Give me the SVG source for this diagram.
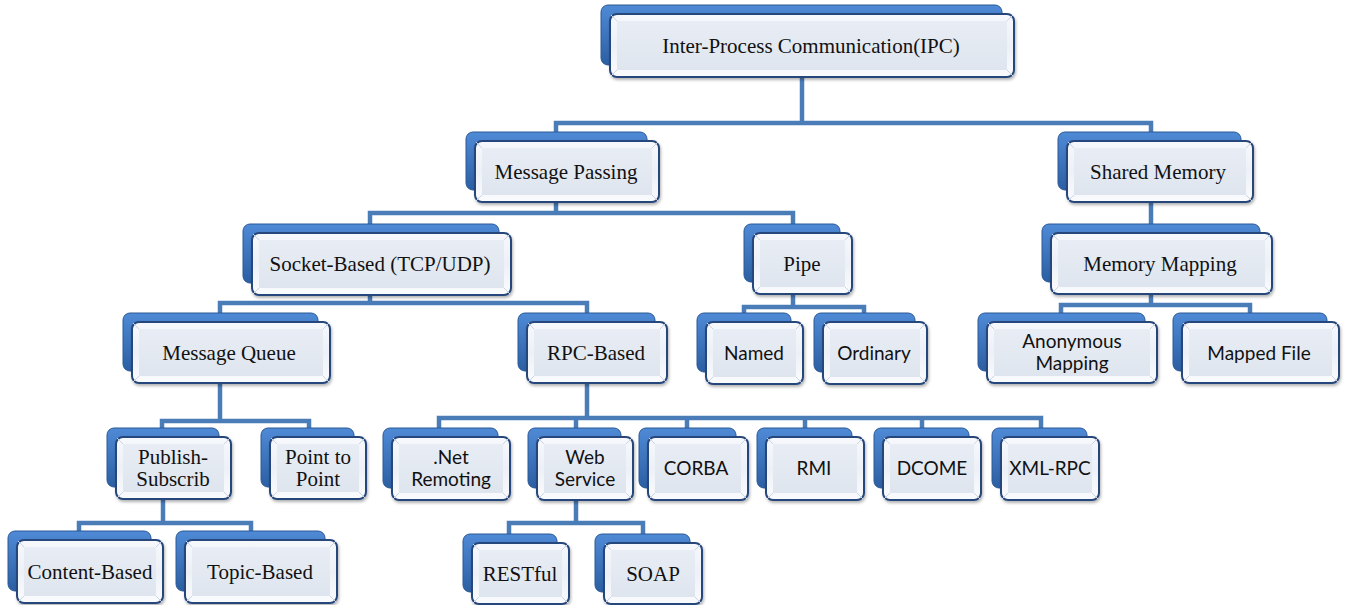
<svg xmlns="http://www.w3.org/2000/svg" width="1348" height="605" viewBox="0 0 1348 605">
<defs>
<linearGradient id="gBack" x1="0" y1="0" x2="0" y2="1">
<stop offset="0" stop-color="#4f8ad6"/>
<stop offset="1" stop-color="#2c5fa3"/>
</linearGradient>
<linearGradient id="gFront" x1="0" y1="0" x2="0" y2="1">
<stop offset="0" stop-color="#f6f8fc"/>
<stop offset="0.5" stop-color="#edf1f7"/>
<stop offset="1" stop-color="#fafbfd"/>
</linearGradient>
<linearGradient id="gInner" x1="0" y1="0" x2="0" y2="1">
<stop offset="0" stop-color="#e8edf5"/>
<stop offset="1" stop-color="#dfe5ee"/>
</linearGradient>
<filter id="sh" x="-10%" y="-20%" width="120%" height="150%">
<feDropShadow dx="1" dy="2" stdDeviation="1.5" flood-color="#000" flood-opacity="0.3"/>
</filter>
</defs>
<style>
.bk{fill:url(#gBack);stroke:#2a5896;stroke-width:1}
.fr{fill:url(#gFront);stroke:#26477c;stroke-width:2;filter:url(#sh)}
.in{fill:url(#gInner)}
.bv{fill:none;stroke:#cbd4e2;stroke-width:1}
.s{font-family:"Liberation Serif","Times New Roman",serif;font-size:21px;fill:#111;text-anchor:middle}
.a{font-family:Lato,"Liberation Sans",sans-serif;font-size:19px;fill:#111;text-anchor:middle}
.c{fill:none;stroke:#4a7cb8;stroke-width:4.5;stroke-linejoin:miter}
</style>
<rect width="1348" height="605" fill="#fff"/>
<g id="connectors">
<path class="c" d="M802,70V123"/>
<path class="c" d="M556,140V123H1151V140"/>
<path class="c" d="M556,195V213"/>
<path class="c" d="M370,230V213H793V230"/>
<path class="c" d="M1151,195V230"/>
<path class="c" d="M370,290V303"/>
<path class="c" d="M220,320V303H587V320"/>
<path class="c" d="M793,290V307"/>
<path class="c" d="M744,320V307H864V320"/>
<path class="c" d="M1151,290V305"/>
<path class="c" d="M1061,320V305H1250V320"/>
<path class="c" d="M220,378V421"/>
<path class="c" d="M162,435V421H309V435"/>
<path class="c" d="M587,378V418"/>
<path class="c" d="M439,435V418H1041V435M576,418V435M687,418V435M805,418V435M922,418V435"/>
<path class="c" d="M163,495V523"/>
<path class="c" d="M79,537V523H251V537"/>
<path class="c" d="M576,495V523"/>
<path class="c" d="M509,540V523H643V540"/>
</g>
<g id="n-root"><rect class="bk" x="601" y="5" width="401" height="60" rx="7"/><rect class="fr" x="610" y="14" width="404" height="63" rx="7"/><rect class="in" x="617" y="21" width="390" height="49"/><path class="bv" d="M611,15l6,6M1013,15l-6,6M611,76l6,-6M1013,76l-6,-6"/><text class="s" x="811" y="52.5">Inter-Process Communication(IPC)</text></g>
<g id="n-msgpass"><rect class="bk" x="466" y="132" width="181" height="58" rx="7"/><rect class="fr" x="475" y="141" width="184" height="61" rx="7"/><rect class="in" x="482" y="148" width="170" height="47"/><path class="bv" d="M476,142l6,6M658,142l-6,6M476,201l6,-6M658,201l-6,-6"/><text class="s" x="566" y="178.5">Message Passing</text></g>
<g id="n-shared"><rect class="bk" x="1058" y="132" width="183" height="58" rx="7"/><rect class="fr" x="1067" y="141" width="186" height="61" rx="7"/><rect class="in" x="1074" y="148" width="172" height="47"/><path class="bv" d="M1068,142l6,6M1252,142l-6,6M1068,201l6,-6M1252,201l-6,-6"/><text class="s" x="1158" y="178.5">Shared Memory</text></g>
<g id="n-socket"><rect class="bk" x="243" y="224" width="256" height="59" rx="7"/><rect class="fr" x="252" y="233" width="259" height="62" rx="7"/><rect class="in" x="259" y="240" width="245" height="48"/><path class="bv" d="M253,234l6,6M510,234l-6,6M253,294l6,-6M510,294l-6,-6"/><text class="s" x="380" y="271">Socket-Based (TCP/UDP)</text></g>
<g id="n-pipe"><rect class="bk" x="744" y="224" width="96" height="58" rx="7"/><rect class="fr" x="753" y="233" width="99" height="61" rx="7"/><rect class="in" x="760" y="240" width="85" height="47"/><path class="bv" d="M754,234l6,6M851,234l-6,6M754,293l6,-6M851,293l-6,-6"/><text class="s" x="802" y="270.5">Pipe</text></g>
<g id="n-memmap"><rect class="bk" x="1042" y="224" width="218" height="58" rx="7"/><rect class="fr" x="1051" y="233" width="221" height="61" rx="7"/><rect class="in" x="1058" y="240" width="207" height="47"/><path class="bv" d="M1052,234l6,6M1271,234l-6,6M1052,293l6,-6M1271,293l-6,-6"/><text class="s" x="1160" y="270.5">Memory Mapping</text></g>
<g id="n-mqueue"><rect class="bk" x="123" y="313" width="195" height="58" rx="7"/><rect class="fr" x="132" y="322" width="198" height="61" rx="7"/><rect class="in" x="139" y="329" width="184" height="47"/><path class="bv" d="M133,323l6,6M329,323l-6,6M133,382l6,-6M329,382l-6,-6"/><text class="s" x="229" y="359.5">Message Queue</text></g>
<g id="n-rpc"><rect class="bk" x="518" y="313" width="137" height="58" rx="7"/><rect class="fr" x="527" y="322" width="140" height="61" rx="7"/><rect class="in" x="534" y="329" width="126" height="47"/><path class="bv" d="M528,323l6,6M666,323l-6,6M528,382l6,-6M666,382l-6,-6"/><text class="s" x="596" y="359.5">RPC-Based</text></g>
<g id="n-named"><rect class="bk" x="697" y="313" width="94" height="59" rx="7"/><rect class="fr" x="706" y="322" width="97" height="62" rx="7"/><rect class="in" x="713" y="329" width="83" height="48"/><path class="bv" d="M707,323l6,6M802,323l-6,6M707,383l6,-6M802,383l-6,-6"/><text class="a" x="754" y="359.5">Named</text></g>
<g id="n-ordinary"><rect class="bk" x="814" y="313" width="101" height="59" rx="7"/><rect class="fr" x="823" y="322" width="104" height="62" rx="7"/><rect class="in" x="830" y="329" width="90" height="48"/><path class="bv" d="M824,323l6,6M926,323l-6,6M824,383l6,-6M926,383l-6,-6"/><text class="a" x="874" y="359.5">Ordinary</text></g>
<g id="n-anon"><rect class="bk" x="978" y="313" width="167" height="58" rx="7"/><rect class="fr" x="987" y="322" width="170" height="61" rx="7"/><rect class="in" x="994" y="329" width="156" height="47"/><path class="bv" d="M988,323l6,6M1156,323l-6,6M988,382l6,-6M1156,382l-6,-6"/><text class="a" x="1072" y="348">Anonymous</text><text class="a" x="1072" y="370">Mapping</text></g>
<g id="n-mapped"><rect class="bk" x="1173" y="313" width="154" height="58" rx="7"/><rect class="fr" x="1182" y="322" width="157" height="61" rx="7"/><rect class="in" x="1189" y="329" width="143" height="47"/><path class="bv" d="M1183,323l6,6M1338,323l-6,6M1183,382l6,-6M1338,382l-6,-6"/><text class="a" x="1259" y="359.5">Mapped File</text></g>
<g id="n-pubsub"><rect class="bk" x="107" y="428" width="112" height="59" rx="7"/><rect class="fr" x="116" y="437" width="115" height="62" rx="7"/><rect class="in" x="123" y="444" width="101" height="48"/><path class="bv" d="M117,438l6,6M230,438l-6,6M117,498l6,-6M230,498l-6,-6"/><text class="s" x="173" y="464">Publish-</text><text class="s" x="173" y="486">Subscrib</text></g>
<g id="n-p2p"><rect class="bk" x="261" y="428" width="93" height="59" rx="7"/><rect class="fr" x="270" y="437" width="96" height="62" rx="7"/><rect class="in" x="277" y="444" width="82" height="48"/><path class="bv" d="M271,438l6,6M365,438l-6,6M271,498l6,-6M365,498l-6,-6"/><text class="s" x="318" y="464">Point to</text><text class="s" x="318" y="486">Point</text></g>
<g id="n-net"><rect class="bk" x="383" y="428" width="115" height="60" rx="7"/><rect class="fr" x="392" y="437" width="118" height="63" rx="7"/><rect class="in" x="399" y="444" width="104" height="49"/><path class="bv" d="M393,438l6,6M509,438l-6,6M393,499l6,-6M509,499l-6,-6"/><text class="a" x="451" y="463.5">.Net</text><text class="a" x="451" y="486">Remoting</text></g>
<g id="n-websvc"><rect class="bk" x="528" y="428" width="93" height="60" rx="7"/><rect class="fr" x="537" y="437" width="96" height="63" rx="7"/><rect class="in" x="544" y="444" width="82" height="49"/><path class="bv" d="M538,438l6,6M632,438l-6,6M538,499l6,-6M632,499l-6,-6"/><text class="a" x="585" y="463.5">Web</text><text class="a" x="585" y="486">Service</text></g>
<g id="n-corba"><rect class="bk" x="639" y="428" width="97" height="60" rx="7"/><rect class="fr" x="648" y="437" width="100" height="63" rx="7"/><rect class="in" x="655" y="444" width="86" height="49"/><path class="bv" d="M649,438l6,6M747,438l-6,6M649,499l6,-6M747,499l-6,-6"/><text class="a" x="696" y="475">CORBA</text></g>
<g id="n-rmi"><rect class="bk" x="757" y="428" width="95" height="60" rx="7"/><rect class="fr" x="766" y="437" width="98" height="63" rx="7"/><rect class="in" x="773" y="444" width="84" height="49"/><path class="bv" d="M767,438l6,6M863,438l-6,6M767,499l6,-6M863,499l-6,-6"/><text class="a" x="814" y="475">RMI</text></g>
<g id="n-dcome"><rect class="bk" x="874" y="428" width="95" height="60" rx="7"/><rect class="fr" x="883" y="437" width="98" height="63" rx="7"/><rect class="in" x="890" y="444" width="84" height="49"/><path class="bv" d="M884,438l6,6M980,438l-6,6M884,499l6,-6M980,499l-6,-6"/><text class="a" x="932" y="475">DCOME</text></g>
<g id="n-xmlrpc"><rect class="bk" x="992" y="428" width="95" height="60" rx="7"/><rect class="fr" x="1001" y="437" width="98" height="63" rx="7"/><rect class="in" x="1008" y="444" width="84" height="49"/><path class="bv" d="M1002,438l6,6M1098,438l-6,6M1002,499l6,-6M1098,499l-6,-6"/><text class="a" x="1050" y="475">XML-RPC</text></g>
<g id="n-content"><rect class="bk" x="8" y="531" width="143" height="60" rx="7"/><rect class="fr" x="17" y="540" width="146" height="63" rx="7"/><rect class="in" x="24" y="547" width="132" height="49"/><path class="bv" d="M18,541l6,6M162,541l-6,6M18,602l6,-6M162,602l-6,-6"/><text class="s" x="90" y="578.5">Content-Based</text></g>
<g id="n-topic"><rect class="bk" x="176" y="531" width="149" height="60" rx="7"/><rect class="fr" x="185" y="540" width="152" height="63" rx="7"/><rect class="in" x="192" y="547" width="138" height="49"/><path class="bv" d="M186,541l6,6M336,541l-6,6M186,602l6,-6M336,602l-6,-6"/><text class="s" x="260" y="578.5">Topic-Based</text></g>
<g id="n-restful"><rect class="bk" x="463" y="534" width="94" height="58" rx="7"/><rect class="fr" x="472" y="543" width="97" height="61" rx="7"/><rect class="in" x="479" y="550" width="83" height="47"/><path class="bv" d="M473,544l6,6M568,544l-6,6M473,603l6,-6M568,603l-6,-6"/><text class="s" x="520" y="580.5">RESTful</text></g>
<g id="n-soap"><rect class="bk" x="595" y="534" width="95" height="58" rx="7"/><rect class="fr" x="604" y="543" width="98" height="61" rx="7"/><rect class="in" x="611" y="550" width="84" height="47"/><path class="bv" d="M605,544l6,6M701,544l-6,6M605,603l6,-6M701,603l-6,-6"/><text class="s" x="653" y="580.5">SOAP</text></g>
</svg>
